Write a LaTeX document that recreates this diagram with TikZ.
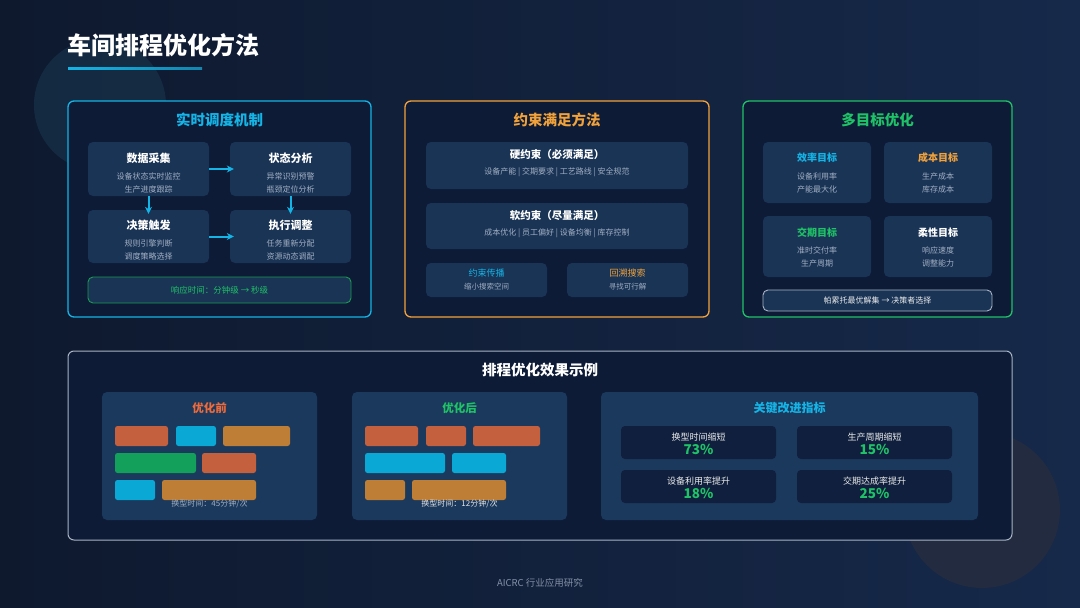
\documentclass[tikz,border=0pt]{standalone}
\usepackage{fontspec}
\setmainfont{Noto Sans CJK SC}
\usetikzlibrary{arrows.meta}
\newcommand{\myfs}[1]{\fontsize{#1}{#1}\selectfont}
\definecolor{bgA}{HTML}{0E192E}
\definecolor{bgB}{HTML}{16294A}
\definecolor{panelbg}{HTML}{0D1B37}
\definecolor{subbg}{HTML}{1A3456}
\definecolor{cyanc}{HTML}{14B4E6}
\definecolor{orangec}{HTML}{F2A23A}
\definecolor{greenc}{HTML}{1FC266}
\definecolor{greenbd}{HTML}{1A9A52}
\definecolor{subtxt}{HTML}{A2AFC2}
\definecolor{graybd}{HTML}{A8B4C4}
\definecolor{redbar}{HTML}{C5603E}
\definecolor{cyanbar}{HTML}{0AA8D4}
\definecolor{orgbar}{HTML}{BF7E36}
\definecolor{grnbar}{HTML}{13A05A}
\definecolor{metricbg}{HTML}{0F1F3D}
\definecolor{lowbg}{HTML}{1B395C}
\definecolor{circA}{HTML}{17324A}
\definecolor{circB}{HTML}{222B40}
\definecolor{redt}{HTML}{EC6A3C}
\definecolor{foottxt}{HTML}{8491A6}
\begin{document}
\begin{tikzpicture}[x=1pt,y=-1pt,
  panel/.style={rounded corners=6pt, line width=1.3pt, fill=panelbg},
  subbox/.style={rounded corners=5pt, fill=subbg, inner sep=0pt},
  lowbox/.style={rounded corners=5pt, fill=lowbg, inner sep=0pt},
  metbox/.style={rounded corners=4pt, fill=metricbg, inner sep=0pt},
  ttl/.style={font=\myfs{14.5}\bfseries, inner sep=0pt},
  bt/.style={font=\myfs{11}\bfseries, text=white, inner sep=0pt},
  st/.style={font=\myfs{8}, text=subtxt, inner sep=0pt},
  arr/.style={-{Stealth[length=7pt,width=7pt]}, line width=2pt, draw=cyanc, shorten >=-4pt},
  bar/.style={rounded corners=2.5pt},
]
\useasboundingbox (0,0) rectangle (1080,608);
\shade[left color=bgA, right color=bgB] (0,0) rectangle (1080,608);
% decorative circles
\fill[circA, opacity=0.7] (100,105) circle (66);
\fill[circB] (982,510) circle (78);

% title
\node[font=\myfs{24}\bfseries, text=white, anchor=west, inner sep=0pt] (title) at (67,45) {车间排程优化方法};
\shade[left color=cyanc, right color=cyanc!70!bgA] (68,67) rectangle (202,69.5);

% ---------- panel 1 ----------
\node[panel, draw=cyanc, minimum width=303pt, minimum height=216pt] (p1) at (219.5,209) {};
\node[ttl, text=cyanc] (p1t) at (219.5,120) {实时调度机制};
\node[subbox, minimum width=121pt, minimum height=54pt] (b1) at (148.5,169) {};
\node[subbox, minimum width=121pt, minimum height=54pt] (b2) at (290.5,169) {};
\node[subbox, minimum width=121pt, minimum height=53pt] (b3) at (148.5,236.5) {};
\node[subbox, minimum width=121pt, minimum height=53pt] (b4) at (290.5,236.5) {};
\node[bt] (b1t) at (148.5,158) {数据采集};
\node[st] (b1a) at (148.5,176) {设备状态实时监控};
\node[st] (b1b) at (148.5,189) {生产进度跟踪};
\node[bt] (b2t) at (290.5,158) {状态分析};
\node[st] (b2a) at (290.5,176) {异常识别预警};
\node[st] (b2b) at (290.5,189) {瓶颈定位分析};
\node[bt] (b3t) at (148.5,225) {决策触发};
\node[st] (b3a) at (148.5,243) {规则引擎判断};
\node[st] (b3b) at (148.5,256) {调度策略选择};
\node[bt] (b4t) at (290.5,225) {执行调整};
\node[st] (b4a) at (290.5,243) {任务重新分配};
\node[st] (b4b) at (290.5,256) {资源动态调配};
\draw[arr] (b1.east) -- (b2.west);
\draw[arr] (b1.south) -- (b3.north);
\draw[arr] (b2.south) -- (b4.north);
\draw[arr] (b3.east) -- (b4.west);
\node[subbox, draw=greenbd, line width=0.9pt, minimum width=263pt, minimum height=26pt, font=\myfs{8.5}, text=greenc] (resp) at (219.5,290) {响应时间：分钟级 → 秒级};

% ---------- panel 2 ----------
\node[panel, draw=orangec, minimum width=304pt, minimum height=216pt] (p2) at (557,209) {};
\node[ttl, text=orangec] (p2t) at (557,120) {约束满足方法};
\node[subbox, minimum width=262pt, minimum height=47pt] (h) at (557,165.5) {};
\node[bt, font=\myfs{10.5}\bfseries] (ht) at (557,155) {硬约束（必须满足）};
\node[st] (hs) at (557,172) {设备产能 | 交期要求 | 工艺路线 | 安全规范};
\node[subbox, minimum width=262pt, minimum height=46pt] (s) at (557,226) {};
\node[bt, font=\myfs{10.5}\bfseries] (sst) at (557,216) {软约束（尽量满足）};
\node[st] (ss) at (557,233) {成本优化 | 员工偏好 | 设备均衡 | 库存控制};
\node[subbox, minimum width=121pt, minimum height=34pt] (c1) at (486.5,280) {};
\node[subbox, minimum width=121pt, minimum height=34pt] (c2) at (627.5,280) {};
\node[inner sep=0pt, font=\myfs{9}, text=cyanc] (c1t) at (486.5,273) {约束传播};
\node[st, font=\myfs{7.5}] (c1s) at (486.5,287) {缩小搜索空间};
\node[inner sep=0pt, font=\myfs{9}, text=orangec] (c2t) at (627.5,273) {回溯搜索};
\node[st, font=\myfs{7.5}] (c2s) at (627.5,287) {寻找可行解};

% ---------- panel 3 ----------
\node[panel, draw=greenc, minimum width=269pt, minimum height=216pt] (p3) at (877.5,209) {};
\node[ttl, text=greenc] (p3t) at (877.5,120) {多目标优化};
\node[subbox, minimum width=108pt, minimum height=61pt] (g1) at (817,172.5) {};
\node[subbox, minimum width=108pt, minimum height=61pt] (g2) at (938,172.5) {};
\node[subbox, minimum width=108pt, minimum height=61pt] (g3) at (817,246.5) {};
\node[subbox, minimum width=108pt, minimum height=61pt] (g4) at (938,246.5) {};
\node[bt, font=\myfs{10}\bfseries, text=cyanc] (g1t) at (817,158) {效率目标};
\node[st] (g1a) at (817,176) {设备利用率};
\node[st] (g1b) at (817,189) {产能最大化};
\node[bt, font=\myfs{10}\bfseries, text=orangec] (g2t) at (938,158) {成本目标};
\node[st] (g2a) at (938,176) {生产成本};
\node[st] (g2b) at (938,189) {库存成本};
\node[bt, font=\myfs{10}\bfseries, text=greenc] (g3t) at (817,233) {交期目标};
\node[st] (g3a) at (817,250) {准时交付率};
\node[st] (g3b) at (817,263) {生产周期};
\node[bt, font=\myfs{10}\bfseries] (g4t) at (938,233) {柔性目标};
\node[st] (g4a) at (938,250) {响应速度};
\node[st] (g4b) at (938,263) {调整能力};
\node[subbox, draw=graybd, line width=0.9pt, minimum width=229pt, minimum height=21pt, font=\myfs{8}, text=white!92!black] (pareto) at (877.5,300.5) {帕累托最优解集 → 决策者选择};

% ---------- bottom panel ----------
\node[panel, draw=graybd, line width=1pt, minimum width=944pt, minimum height=189pt] (p4) at (540,445.5) {};
\node[ttl, text=white] (p4t) at (540,370) {排程优化效果示例};

\node[lowbox, minimum width=215pt, minimum height=128pt] (l1) at (209.5,456) {};
\node[lowbox, minimum width=215pt, minimum height=128pt] (l2) at (459.5,456) {};
\node[lowbox, minimum width=377pt, minimum height=128pt] (l3) at (789.5,456) {};
\node[inner sep=0pt, font=\myfs{11.5}\bfseries, text=redt] (l1t) at (209.5,408) {优化前};
\node[inner sep=0pt, font=\myfs{11.5}\bfseries, text=greenc] (l2t) at (459.5,408) {优化后};
\node[inner sep=0pt, font=\myfs{12}\bfseries, text=cyanc] (l3t) at (789.5,408) {关键改进指标};

% before bars
\fill[bar, redbar] (115,426) rectangle (168,446);
\fill[bar, cyanbar] (176,426) rectangle (216,446);
\fill[bar, orgbar] (223,426) rectangle (290,446);
\fill[bar, grnbar] (115,453) rectangle (196,473);
\fill[bar, redbar] (202,453) rectangle (256,473);
\fill[bar, cyanbar] (115,480) rectangle (155,500);
\fill[bar, orgbar] (162,480) rectangle (256,500);
\node[inner sep=0pt, font=\myfs{8}, text=subtxt] (l1n) at (209.5,504) {换型时间：45分钟/次};
% after bars
\fill[bar, redbar] (365,426) rectangle (418,446);
\fill[bar, redbar] (426,426) rectangle (466,446);
\fill[bar, redbar] (473,426) rectangle (540,446);
\fill[bar, cyanbar] (365,453) rectangle (445,473);
\fill[bar, cyanbar] (452,453) rectangle (506,473);
\fill[bar, orgbar] (365,480) rectangle (405,500);
\fill[bar, orgbar] (412,480) rectangle (506,500);
\node[inner sep=0pt, font=\myfs{8}, text=white!90!black] (l2n) at (459.5,504) {换型时间：12分钟/次};

% metrics
\node[metbox, minimum width=155pt, minimum height=33pt] (m1) at (698.5,442.5) {};
\node[metbox, minimum width=155pt, minimum height=33pt] (m2) at (874.5,442.5) {};
\node[metbox, minimum width=155pt, minimum height=33pt] (m3) at (698.5,486.5) {};
\node[metbox, minimum width=155pt, minimum height=33pt] (m4) at (874.5,486.5) {};
\node[inner sep=0pt, font=\myfs{9}, text=white!92!black] (m1a) at (698.5,437) {换型时间缩短};
\node[inner sep=0pt, font=\myfs{13.5}\bfseries, text=greenc] (m1b) at (698.5,449.5) {73\%};
\node[inner sep=0pt, font=\myfs{9}, text=white!92!black] (m2a) at (874.5,437) {生产周期缩短};
\node[inner sep=0pt, font=\myfs{13.5}\bfseries, text=greenc] (m2b) at (874.5,449.5) {15\%};
\node[inner sep=0pt, font=\myfs{9}, text=white!92!black] (m3a) at (698.5,481) {设备利用率提升};
\node[inner sep=0pt, font=\myfs{13.5}\bfseries, text=greenc] (m3b) at (698.5,493.5) {18\%};
\node[inner sep=0pt, font=\myfs{9}, text=white!92!black] (m4a) at (874.5,481) {交期达成率提升};
\node[inner sep=0pt, font=\myfs{13.5}\bfseries, text=greenc] (m4b) at (874.5,493.5) {25\%};

% footer
\node[inner sep=0pt, font=\myfs{9.5}, text=foottxt] (foot) at (540,583) {AICRC 行业应用研究};
\end{tikzpicture}
\end{document}
